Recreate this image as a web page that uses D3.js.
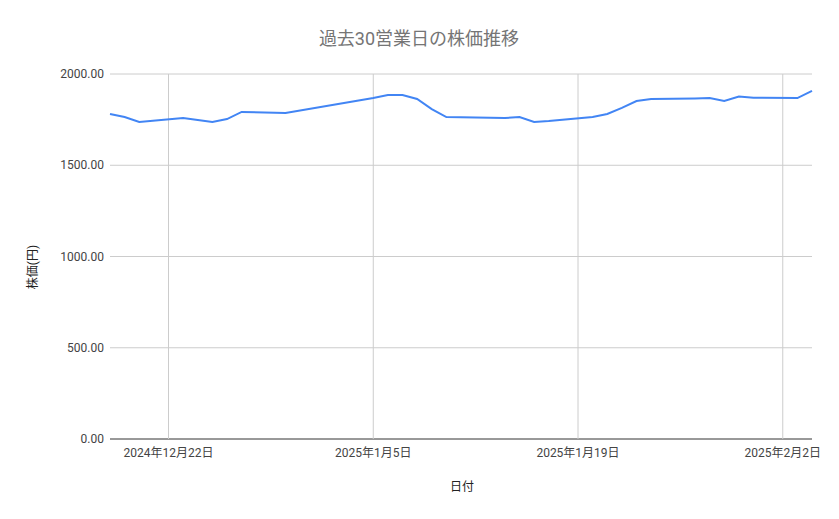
<!DOCTYPE html><html><head><meta charset="utf-8">
<script src="https://cdn.jsdelivr.net/npm/d3@7"></script>
<style>body{margin:0;background:#fff}text{font-family:Roboto,"Noto Sans CJK JP",sans-serif}</style></head><body>
<svg id="c" width="839" height="519"></svg>
<script>
const dates=["2024-12-18","2024-12-19","2024-12-20","2024-12-23","2024-12-24","2024-12-25","2024-12-26","2024-12-27","2024-12-30","2025-01-05","2025-01-06","2025-01-07","2025-01-08","2025-01-09","2025-01-10","2025-01-14","2025-01-15","2025-01-16","2025-01-17","2025-01-20","2025-01-21","2025-01-22","2025-01-23","2025-01-24","2025-01-27","2025-01-28","2025-01-29","2025-01-30","2025-01-31","2025-02-03","2025-02-04"];
const prices=[1781,1764,1737,1759,1748,1737,1753,1792,1786,1868,1885,1885,1863,1808,1764,1759,1764,1737,1742,1764,1781,1814,1852,1863,1866,1868,1852,1877,1870,1868,1907];
const yTicks=[0,500,1000,1500,2000];
const xTicks=["2024-12-22","2025-01-05","2025-01-19","2025-02-02"];
const p=d3.timeParse("%Y-%m-%d");
const svg=d3.select("#c");
const L=110,R=812,T=74,B=439;
const x=d3.scaleTime().domain([p("2024-12-18"),p("2025-02-04")]).range([L,R]);
const y=d3.scaleLinear().domain([0,2000]).range([B,T]);
const g=svg.append("g");
g.selectAll(".hy").data(yTicks).join("line").attr("x1",L).attr("x2",R).attr("y1",d=>y(d)).attr("y2",d=>y(d)).attr("stroke",d=>d===0?"#333":"#ccc");
g.selectAll(".vx").data(xTicks).join("line").attr("x1",d=>x(p(d))).attr("x2",d=>x(p(d))).attr("y1",T).attr("y2",B).attr("stroke","#ccc");
g.selectAll(".ty").data(yTicks).join("text").attr("x",104).attr("y",d=>y(d)+4).attr("text-anchor","end").attr("font-size",12).attr("fill","#444").text(d=>d3.format(".2f")(d));
const fx=d3.timeFormat("%Y年%-m月%-d日");
g.selectAll(".tx").data(xTicks).join("text").attr("x",d=>x(p(d))).attr("y",457).attr("text-anchor","middle").attr("font-size",12).attr("fill","#444").text(d=>fx(p(d)));
svg.append("path").attr("d",d3.line().x((d,i)=>x(p(dates[i]))).y(d=>y(d))(prices)).attr("fill","none").attr("stroke","#4285f4").attr("stroke-width",2);
svg.append("text").attr("x",419).attr("y",45).attr("text-anchor","middle").attr("font-size",18).attr("fill","#757575").text("過去30営業日の株価推移");
svg.append("text").attr("x",462).attr("y",491).attr("text-anchor","middle").attr("font-size",12).attr("fill","#222").text("日付");
svg.append("text").attr("transform","translate(37,267) rotate(-90)").attr("text-anchor","middle").attr("font-size",12).attr("fill","#222").text("株価(円)");
</script></body></html>
